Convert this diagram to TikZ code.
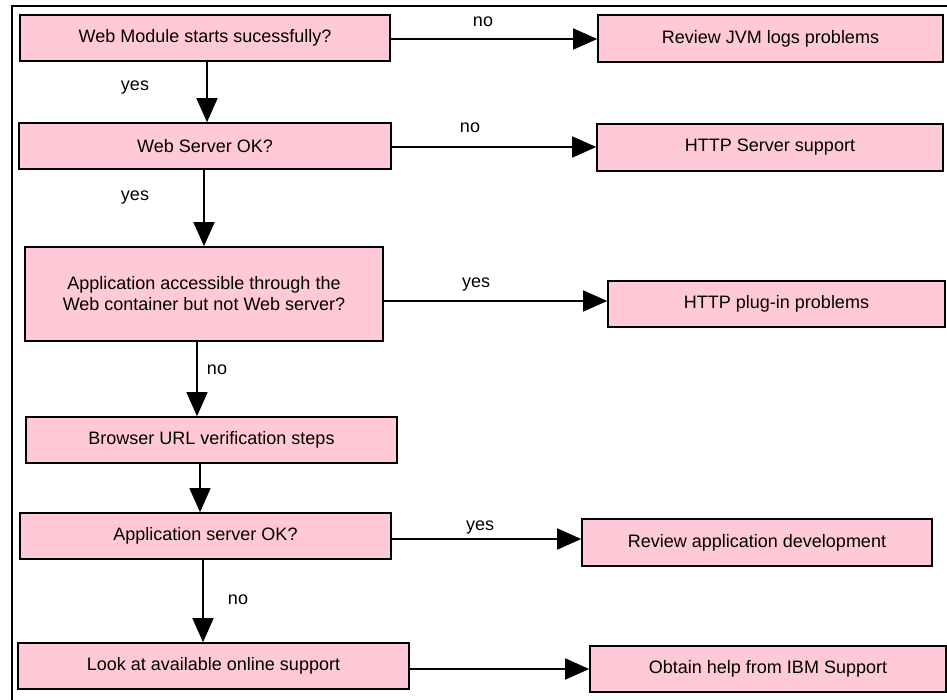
\documentclass[tikz,border=0pt]{standalone}
\usepackage{fontspec}
\setmainfont{Liberation Sans}
\usetikzlibrary{arrows.meta}
\definecolor{boxpink}{RGB}{255,201,216}
\tikzset{
  fbox/.style={draw=black, fill=boxpink, line width=1.6pt, inner sep=0pt, align=center,
    font=\fontsize{18}{21}\selectfont},
  lbl/.style={inner sep=0pt, font=\fontsize{18}{21}\selectfont},
  arr/.style={line width=1.3pt, -{Triangle[length=24pt, width=21pt]}, shorten >=0pt}
}
\begin{document}
\begin{tikzpicture}[x=1pt, y=-1pt]
\useasboundingbox (0,0) rectangle (947,700);
\fill[white] (0,0) rectangle (947,700);
\draw[line width=1.4pt] (12,702) -- (12,6) -- (949,6);

\node[fbox, minimum width=370pt, minimum height=46pt] (b1) at (205,38) {Web Module starts sucessfully?};
\node[fbox, minimum width=345pt, minimum height=47pt] (b2) at (770.5,38.5) {Review JVM logs problems};
\node[fbox, minimum width=372pt, minimum height=46pt] (b3) at (205,146) {Web Server OK?};
\node[fbox, minimum width=346pt, minimum height=47pt] (b4) at (770,147.5) {HTTP Server support};
\node[fbox, minimum width=358pt, minimum height=94pt] (b5) at (204,294) {Application accessible through the\\Web container but not Web server?};
\node[fbox, minimum width=337pt, minimum height=46pt] (b6) at (776.5,304) {HTTP plug-in problems};
\node[fbox, minimum width=371pt, minimum height=46pt] (b7) at (211.5,440) {Browser URL verification steps};
\node[fbox, minimum width=371pt, minimum height=46pt] (b8) at (205.5,536) {Application server OK?};
\node[fbox, minimum width=350pt, minimum height=47pt] (b9) at (757,542.5) {Review application development};
\node[fbox, minimum width=391pt, minimum height=46pt] (b10) at (213.5,666) {Look at available online support};
\node[fbox, minimum width=356pt, minimum height=46pt] (b11) at (768,669) {Obtain help from IBM Support};

% vertical connectors
\draw[arr] ([xshift=2pt]b1.south) -- ([xshift=2pt]b1.south |- b3.north);
\draw[arr] ([xshift=-1pt]b3.south) -- ([xshift=-1pt]b3.south |- b5.north);
\draw[arr] ([xshift=-7pt]b5.south) -- ([xshift=-7pt]b5.south |- b7.north);
\draw[arr] ([xshift=-11.5pt]b7.south) -- ([xshift=-11.5pt]b7.south |- b8.north);
\draw[arr] ([xshift=-2.5pt]b8.south) -- ([xshift=-2.5pt]b8.south |- b10.north);

% horizontal connectors
\draw[arr] ([yshift=-1pt]b1.east) -- ([yshift=-1pt]b1.east -| b2.west);
\draw[arr] ([yshift=-1pt]b3.east) -- ([yshift=-1pt]b3.east -| b4.west);
\draw[arr] ([yshift=-7pt]b5.east) -- ([yshift=-7pt]b5.east -| b6.west);
\draw[arr] ([yshift=-3pt]b8.east) -- ([yshift=-3pt]b8.east -| b9.west);
\draw[arr] ([yshift=-3pt]b10.east) -- ([yshift=-3pt]b10.east -| b11.west);

% labels
\node[lbl] (l1) at (483,22) {no};
\node[lbl] (l2) at (135,88) {yes};
\node[lbl] (l3) at (470,128) {no};
\node[lbl] (l4) at (135,198) {yes};
\node[lbl] (l5) at (476,285) {yes};
\node[lbl] (l6) at (217,370) {no};
\node[lbl] (l7) at (480,528) {yes};
\node[lbl] (l8) at (238,600) {no};
\end{tikzpicture}
\end{document}
